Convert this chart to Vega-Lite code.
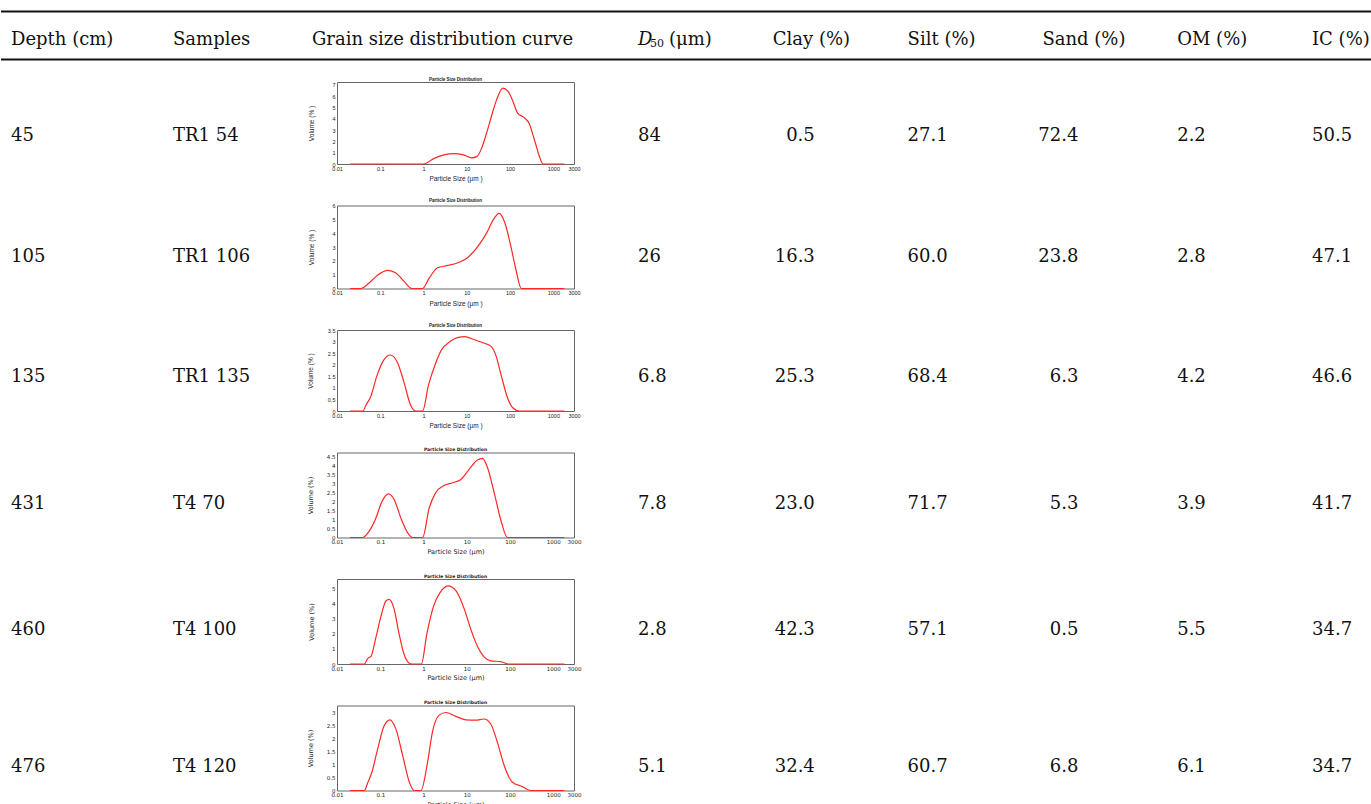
{
  "$schema": "https://vega.github.io/schema/vega-lite/v6.json",
  "padding": {"top": 10.5, "left": 0, "right": 0, "bottom": 0},
  "bounds": "flush",
  "align": "each",
  "columns": 3,
  "spacing": {"row": 22.5, "column": 0},
  "config": {
    "view": {"stroke": null},
    "text": {"font": "DejaVu Serif", "fontSize": 18, "color": "#111"},
    "axis": {"domain": false, "grid": false, "ticks": false, "labelFontSize": 5.5, "titleFontSize": 6.5, "titleFontWeight": "normal", "labelPadding": 2, "labelColor": "#222", "titleColor": "#222", "labelOverlap": false},
    "title": {"fontSize": 4.5, "fontWeight": "bold", "offset": 1, "color": "#222"}
  },
  "datasets": {
    "table": [
      {"depth": 45, "sample": "TR1 54", "d50": 84, "clay": 0.5, "silt": 27.1, "sand": 72.4, "om": 2.2, "ic": 50.5},
      {"depth": 105, "sample": "TR1 106", "d50": 26, "clay": 16.3, "silt": 60.0, "sand": 23.8, "om": 2.8, "ic": 47.1},
      {"depth": 135, "sample": "TR1 135", "d50": 6.8, "clay": 25.3, "silt": 68.4, "sand": 6.3, "om": 4.2, "ic": 46.6},
      {"depth": 431, "sample": "T4 70", "d50": 7.8, "clay": 23.0, "silt": 71.7, "sand": 5.3, "om": 3.9, "ic": 41.7},
      {"depth": 460, "sample": "T4 100", "d50": 2.8, "clay": 42.3, "silt": 57.1, "sand": 0.5, "om": 5.5, "ic": 34.7},
      {"depth": 476, "sample": "T4 120", "d50": 5.1, "clay": 32.4, "silt": 60.7, "sand": 6.8, "om": 6.1, "ic": 34.7}
    ],
    "psd": [
      {"sample": "TR1 54", "size": 0.02, "vol": 0}, {"sample": "TR1 54", "size": 0.5, "vol": 0}, {"sample": "TR1 54", "size": 1, "vol": 0},
      {"sample": "TR1 54", "size": 1.75, "vol": 0.5}, {"sample": "TR1 54", "size": 2.95, "vol": 0.8}, {"sample": "TR1 54", "size": 5, "vol": 0.92},
      {"sample": "TR1 54", "size": 8.4, "vol": 0.8}, {"sample": "TR1 54", "size": 13, "vol": 0.55}, {"sample": "TR1 54", "size": 17, "vol": 0.65},
      {"sample": "TR1 54", "size": 22, "vol": 1.4}, {"sample": "TR1 54", "size": 28.5, "vol": 2.7}, {"sample": "TR1 54", "size": 37, "vol": 4.2},
      {"sample": "TR1 54", "size": 48, "vol": 5.6}, {"sample": "TR1 54", "size": 68, "vol": 6.7}, {"sample": "TR1 54", "size": 89, "vol": 6.45},
      {"sample": "TR1 54", "size": 115, "vol": 5.6}, {"sample": "TR1 54", "size": 149, "vol": 4.5}, {"sample": "TR1 54", "size": 212, "vol": 4.1},
      {"sample": "TR1 54", "size": 275, "vol": 3.6}, {"sample": "TR1 54", "size": 355, "vol": 2.3}, {"sample": "TR1 54", "size": 465, "vol": 0.8},
      {"sample": "TR1 54", "size": 575, "vol": 0}, {"sample": "TR1 54", "size": 1800, "vol": 0},

      {"sample": "TR1 106", "size": 0.02, "vol": 0}, {"sample": "TR1 106", "size": 0.036, "vol": 0}, {"sample": "TR1 106", "size": 0.057, "vol": 0.44},
      {"sample": "TR1 106", "size": 0.089, "vol": 1.0}, {"sample": "TR1 106", "size": 0.15, "vol": 1.32}, {"sample": "TR1 106", "size": 0.23, "vol": 1.12},
      {"sample": "TR1 106", "size": 0.36, "vol": 0.5}, {"sample": "TR1 106", "size": 0.54, "vol": 0}, {"sample": "TR1 106", "size": 0.95, "vol": 0},
      {"sample": "TR1 106", "size": 1.35, "vol": 0.75}, {"sample": "TR1 106", "size": 2.1, "vol": 1.5}, {"sample": "TR1 106", "size": 3.5, "vol": 1.66},
      {"sample": "TR1 106", "size": 6, "vol": 1.85}, {"sample": "TR1 106", "size": 10, "vol": 2.2}, {"sample": "TR1 106", "size": 17, "vol": 2.95},
      {"sample": "TR1 106", "size": 29, "vol": 4.05}, {"sample": "TR1 106", "size": 41, "vol": 5.0}, {"sample": "TR1 106", "size": 56, "vol": 5.45},
      {"sample": "TR1 106", "size": 75, "vol": 4.8}, {"sample": "TR1 106", "size": 108, "vol": 2.83}, {"sample": "TR1 106", "size": 139, "vol": 1.25},
      {"sample": "TR1 106", "size": 182, "vol": 0}, {"sample": "TR1 106", "size": 1800, "vol": 0},

      {"sample": "TR1 135", "size": 0.02, "vol": 0}, {"sample": "TR1 135", "size": 0.04, "vol": 0}, {"sample": "TR1 135", "size": 0.046, "vol": 0.23},
      {"sample": "TR1 135", "size": 0.06, "vol": 0.62}, {"sample": "TR1 135", "size": 0.085, "vol": 1.56}, {"sample": "TR1 135", "size": 0.12, "vol": 2.2},
      {"sample": "TR1 135", "size": 0.17, "vol": 2.42}, {"sample": "TR1 135", "size": 0.245, "vol": 2.13}, {"sample": "TR1 135", "size": 0.35, "vol": 1.27},
      {"sample": "TR1 135", "size": 0.5, "vol": 0.26}, {"sample": "TR1 135", "size": 0.65, "vol": 0}, {"sample": "TR1 135", "size": 0.95, "vol": 0},
      {"sample": "TR1 135", "size": 1.3, "vol": 1.12}, {"sample": "TR1 135", "size": 1.85, "vol": 2.0}, {"sample": "TR1 135", "size": 2.6, "vol": 2.64},
      {"sample": "TR1 135", "size": 4.1, "vol": 3.0}, {"sample": "TR1 135", "size": 6.3, "vol": 3.18}, {"sample": "TR1 135", "size": 9, "vol": 3.21},
      {"sample": "TR1 135", "size": 14, "vol": 3.1}, {"sample": "TR1 135", "size": 22, "vol": 2.97}, {"sample": "TR1 135", "size": 37, "vol": 2.78},
      {"sample": "TR1 135", "size": 48, "vol": 2.35}, {"sample": "TR1 135", "size": 62, "vol": 1.56}, {"sample": "TR1 135", "size": 88, "vol": 0.55},
      {"sample": "TR1 135", "size": 115, "vol": 0.14}, {"sample": "TR1 135", "size": 164, "vol": 0}, {"sample": "TR1 135", "size": 1800, "vol": 0},

      {"sample": "T4 70", "size": 0.02, "vol": 0}, {"sample": "T4 70", "size": 0.039, "vol": 0}, {"sample": "T4 70", "size": 0.056, "vol": 0.37},
      {"sample": "T4 70", "size": 0.079, "vol": 1.07}, {"sample": "T4 70", "size": 0.11, "vol": 2.0}, {"sample": "T4 70", "size": 0.155, "vol": 2.41},
      {"sample": "T4 70", "size": 0.21, "vol": 2.09}, {"sample": "T4 70", "size": 0.3, "vol": 1.07}, {"sample": "T4 70", "size": 0.43, "vol": 0.26},
      {"sample": "T4 70", "size": 0.56, "vol": 0}, {"sample": "T4 70", "size": 0.95, "vol": 0}, {"sample": "T4 70", "size": 1.35, "vol": 1.63},
      {"sample": "T4 70", "size": 1.9, "vol": 2.47}, {"sample": "T4 70", "size": 3, "vol": 2.88}, {"sample": "T4 70", "size": 4.7, "vol": 3.03},
      {"sample": "T4 70", "size": 7.3, "vol": 3.21}, {"sample": "T4 70", "size": 11.3, "vol": 3.77}, {"sample": "T4 70", "size": 17.6, "vol": 4.28},
      {"sample": "T4 70", "size": 23, "vol": 4.37}, {"sample": "T4 70", "size": 30, "vol": 3.87}, {"sample": "T4 70", "size": 43, "vol": 2.47},
      {"sample": "T4 70", "size": 61, "vol": 0.97}, {"sample": "T4 70", "size": 87, "vol": 0}, {"sample": "T4 70", "size": 1800, "vol": 0},

      {"sample": "T4 100", "size": 0.02, "vol": 0}, {"sample": "T4 100", "size": 0.043, "vol": 0}, {"sample": "T4 100", "size": 0.051, "vol": 0.36},
      {"sample": "T4 100", "size": 0.061, "vol": 0.5}, {"sample": "T4 100", "size": 0.08, "vol": 1.8}, {"sample": "T4 100", "size": 0.104, "vol": 3.15},
      {"sample": "T4 100", "size": 0.135, "vol": 4.15}, {"sample": "T4 100", "size": 0.16, "vol": 4.26}, {"sample": "T4 100", "size": 0.21, "vol": 3.6},
      {"sample": "T4 100", "size": 0.27, "vol": 2.03}, {"sample": "T4 100", "size": 0.35, "vol": 0.69}, {"sample": "T4 100", "size": 0.46, "vol": 0.07},
      {"sample": "T4 100", "size": 0.54, "vol": 0}, {"sample": "T4 100", "size": 0.89, "vol": 0}, {"sample": "T4 100", "size": 1.2, "vol": 2.03},
      {"sample": "T4 100", "size": 1.7, "vol": 3.8}, {"sample": "T4 100", "size": 2.4, "vol": 4.7}, {"sample": "T4 100", "size": 3.7, "vol": 5.15},
      {"sample": "T4 100", "size": 5.7, "vol": 4.8}, {"sample": "T4 100", "size": 8.8, "vol": 3.6}, {"sample": "T4 100", "size": 12.5, "vol": 2.25},
      {"sample": "T4 100", "size": 17.8, "vol": 1.14}, {"sample": "T4 100", "size": 25, "vol": 0.47}, {"sample": "T4 100", "size": 36, "vol": 0.2},
      {"sample": "T4 100", "size": 60, "vol": 0.16}, {"sample": "T4 100", "size": 93, "vol": 0}, {"sample": "T4 100", "size": 1800, "vol": 0},

      {"sample": "T4 120", "size": 0.02, "vol": 0}, {"sample": "T4 120", "size": 0.043, "vol": 0}, {"sample": "T4 120", "size": 0.051, "vol": 0.29},
      {"sample": "T4 120", "size": 0.064, "vol": 0.7}, {"sample": "T4 120", "size": 0.087, "vol": 1.6}, {"sample": "T4 120", "size": 0.123, "vol": 2.49},
      {"sample": "T4 120", "size": 0.167, "vol": 2.72}, {"sample": "T4 120", "size": 0.23, "vol": 2.36}, {"sample": "T4 120", "size": 0.33, "vol": 1.34},
      {"sample": "T4 120", "size": 0.47, "vol": 0.32}, {"sample": "T4 120", "size": 0.61, "vol": 0}, {"sample": "T4 120", "size": 0.87, "vol": 0},
      {"sample": "T4 120", "size": 1.24, "vol": 1.09}, {"sample": "T4 120", "size": 1.6, "vol": 2.24}, {"sample": "T4 120", "size": 2.3, "vol": 2.9},
      {"sample": "T4 120", "size": 3.3, "vol": 3.0}, {"sample": "T4 120", "size": 5.6, "vol": 2.85}, {"sample": "T4 120", "size": 9.5, "vol": 2.72},
      {"sample": "T4 120", "size": 16, "vol": 2.71}, {"sample": "T4 120", "size": 25, "vol": 2.75}, {"sample": "T4 120", "size": 36, "vol": 2.55},
      {"sample": "T4 120", "size": 51, "vol": 1.85}, {"sample": "T4 120", "size": 73, "vol": 0.96}, {"sample": "T4 120", "size": 113, "vol": 0.32},
      {"sample": "T4 120", "size": 192, "vol": 0.15}, {"sample": "T4 120", "size": 300, "vol": 0}, {"sample": "T4 120", "size": 1800, "vol": 0}
    ]
  },
  "concat": [
    {
      "width": 336, "height": 48,
      "layer": [
        {"data": {"values": [{"edge": "top"}, {"edge": "bottom"}]}, "mark": {"type": "rule", "color": "#111", "strokeWidth": 2}, "encoding": {"y": {"field": "edge", "type": "ordinal", "scale": {"type": "point", "domain": ["top", "bottom"], "padding": 0}, "axis": null}}},
        {"data": {"values": [{"col": "depth", "label": "Depth (cm)"}, {"col": "sample", "label": "Samples"}]}, "mark": {"type": "text", "align": "left", "baseline": "middle", "dy": 4.5}, "encoding": {"x": {"field": "col", "type": "ordinal", "scale": {"type": "point", "domain": ["depth", "sample"], "range": [10, 172], "padding": 0}, "axis": null}, "text": {"field": "label"}}}
      ]
    },
    {
      "width": 237, "height": 48,
      "layer": [
        {"data": {"values": [{"edge": "top"}, {"edge": "bottom"}]}, "mark": {"type": "rule", "color": "#111", "strokeWidth": 2}, "encoding": {"y": {"field": "edge", "type": "ordinal", "scale": {"type": "point", "domain": ["top", "bottom"], "padding": 0}, "axis": null}}},
        {"data": {"values": [{"label": "Grain size distribution curve"}]}, "mark": {"type": "text", "align": "center", "baseline": "middle", "dy": 4.5, "dx": -13}, "encoding": {"text": {"field": "label"}}}
      ]
    },
    {
      "width": 798, "height": 48,
      "layer": [
        {"data": {"values": [{"edge": "top"}, {"edge": "bottom"}]}, "mark": {"type": "rule", "color": "#111", "strokeWidth": 2}, "encoding": {"y": {"field": "edge", "type": "ordinal", "scale": {"type": "point", "domain": ["top", "bottom"], "padding": 0}, "axis": null}}},
        {"data": {"values": [{"col": "clay", "label": "Clay (%)"}, {"col": "silt", "label": "Silt (%)"}, {"col": "sand", "label": "Sand (%)"}, {"col": "om", "label": "OM (%)"}, {"col": "ic", "label": "IC (%)"}]}, "mark": {"type": "text", "align": "left", "baseline": "middle", "dy": 4.5}, "encoding": {"x": {"field": "col", "type": "ordinal", "scale": {"type": "point", "domain": ["d50", "clay", "silt", "sand", "om", "ic"], "range": [64, 738], "padding": 0}, "axis": null}, "text": {"field": "label"}}},
        {"data": {"values": [{"col": "d50", "label": "D"}]}, "mark": {"type": "text", "align": "left", "baseline": "middle", "dy": 4.5, "fontStyle": "italic"}, "encoding": {"x": {"field": "col", "type": "ordinal"}, "text": {"field": "label"}}},
        {"data": {"values": [{"col": "d50", "label": "50"}]}, "mark": {"type": "text", "align": "left", "baseline": "middle", "dy": 8.5, "dx": 12, "fontSize": 11}, "encoding": {"x": {"field": "col", "type": "ordinal"}, "text": {"field": "label"}}},
        {"data": {"values": [{"col": "d50", "label": "(μm)"}]}, "mark": {"type": "text", "align": "left", "baseline": "middle", "dy": 4.5, "dx": 31}, "encoding": {"x": {"field": "col", "type": "ordinal"}, "text": {"field": "label"}}}
      ]
    },

    {"width": 336, "height": 100.5, "data": {"name": "table"}, "transform": [{"filter": "datum.sample === 'TR1 54'"}, {"fold": ["depth", "sample"]}], "mark": {"type": "text", "align": "left", "baseline": "middle", "dy": 4}, "encoding": {"x": {"field": "key", "type": "ordinal", "scale": {"type": "point", "domain": ["depth", "sample"], "range": [10, 172], "padding": 0}, "axis": null}, "text": {"field": "value", "type": "nominal"}}},
    {"width": 237, "height": 82, "view": {"stroke": "#666", "strokeWidth": 1}, "title": {"text": "Particle Size Distribution", "font": "Liberation Sans"}, "data": {"name": "psd"}, "transform": [{"filter": "datum.sample === 'TR1 54'"}], "mark": {"type": "line", "color": "#ff2626", "strokeWidth": 1.2, "interpolate": "monotone"},
     "encoding": {"x": {"field": "size", "type": "quantitative", "scale": {"type": "log", "domain": [0.01, 3000], "nice": false}, "axis": {"values": [0.01, 0.1, 1, 10, 100, 1000, 3000], "format": "~g", "labelFlush": false, "title": "Particle Size   (µm )", "labelFont": "Liberation Sans", "titleFont": "Liberation Sans", "titlePadding": 4}},
                  "y": {"field": "vol", "type": "quantitative", "scale": {"domain": [0, 7.25], "nice": false}, "axis": {"values": [0, 1, 2, 3, 4, 5, 6, 7], "format": "~g", "title": "Volume   (% )", "labelFont": "Liberation Sans", "titleFont": "Liberation Sans", "titlePadding": 17, "labelFlush": false}}}},
    {"width": 798, "height": 100.5, "data": {"name": "table"}, "transform": [{"filter": "datum.sample === 'TR1 54'"}],
     "encoding": {"x": {"field": "key", "type": "ordinal", "scale": {"type": "point", "domain": ["d50", "clay", "silt", "sand", "om", "ic"], "range": [64, 738], "padding": 0}, "axis": null}},
     "layer": [
       {"transform": [{"fold": ["d50"]}], "mark": {"type": "text", "align": "left", "baseline": "middle", "dy": 4}, "encoding": {"text": {"field": "value", "type": "nominal"}}},
       {"transform": [{"fold": ["silt", "om", "ic"]}], "mark": {"type": "text", "align": "left", "baseline": "middle", "dy": 4}, "encoding": {"text": {"field": "value", "type": "quantitative", "format": ".1f"}}},
       {"transform": [{"fold": ["clay"]}], "mark": {"type": "text", "align": "right", "baseline": "middle", "dy": 4, "dx": 42}, "encoding": {"text": {"field": "value", "type": "quantitative", "format": ".1f"}}},
       {"transform": [{"fold": ["sand"]}], "mark": {"type": "text", "align": "right", "baseline": "middle", "dy": 4, "dx": 36}, "encoding": {"text": {"field": "value", "type": "quantitative", "format": ".1f"}}}
     ]},

    {"width": 336, "height": 101.5, "data": {"name": "table"}, "transform": [{"filter": "datum.sample === 'TR1 106'"}, {"fold": ["depth", "sample"]}], "mark": {"type": "text", "align": "left", "baseline": "middle", "dy": 0.5}, "encoding": {"x": {"field": "key", "type": "ordinal", "scale": {"type": "point", "domain": ["depth", "sample"], "range": [10, 172], "padding": 0}, "axis": null}, "text": {"field": "value", "type": "nominal"}}},
    {"width": 237, "height": 83, "view": {"stroke": "#666", "strokeWidth": 1}, "title": {"text": "Particle Size Distribution", "font": "Liberation Sans"}, "data": {"name": "psd"}, "transform": [{"filter": "datum.sample === 'TR1 106'"}], "mark": {"type": "line", "color": "#ff2626", "strokeWidth": 1.2, "interpolate": "monotone"},
     "encoding": {"x": {"field": "size", "type": "quantitative", "scale": {"type": "log", "domain": [0.01, 3000], "nice": false}, "axis": {"values": [0.01, 0.1, 1, 10, 100, 1000, 3000], "format": "~g", "labelFlush": false, "title": "Particle Size   (µm )", "labelFont": "Liberation Sans", "titleFont": "Liberation Sans", "titlePadding": 4}},
                  "y": {"field": "vol", "type": "quantitative", "scale": {"domain": [0, 6.02], "nice": false}, "axis": {"values": [0, 1, 2, 3, 4, 5, 6], "format": "~g", "title": "Volume   (% )", "labelFont": "Liberation Sans", "titleFont": "Liberation Sans", "titlePadding": 17, "labelFlush": false}}}},
    {"width": 798, "height": 101.5, "data": {"name": "table"}, "transform": [{"filter": "datum.sample === 'TR1 106'"}],
     "encoding": {"x": {"field": "key", "type": "ordinal", "scale": {"type": "point", "domain": ["d50", "clay", "silt", "sand", "om", "ic"], "range": [64, 738], "padding": 0}, "axis": null}},
     "layer": [
       {"transform": [{"fold": ["d50"]}], "mark": {"type": "text", "align": "left", "baseline": "middle", "dy": 0.5}, "encoding": {"text": {"field": "value", "type": "nominal"}}},
       {"transform": [{"fold": ["silt", "om", "ic"]}], "mark": {"type": "text", "align": "left", "baseline": "middle", "dy": 0.5}, "encoding": {"text": {"field": "value", "type": "quantitative", "format": ".1f"}}},
       {"transform": [{"fold": ["clay"]}], "mark": {"type": "text", "align": "right", "baseline": "middle", "dy": 0.5, "dx": 42}, "encoding": {"text": {"field": "value", "type": "quantitative", "format": ".1f"}}},
       {"transform": [{"fold": ["sand"]}], "mark": {"type": "text", "align": "right", "baseline": "middle", "dy": 0.5, "dx": 36}, "encoding": {"text": {"field": "value", "type": "quantitative", "format": ".1f"}}}
     ]},

    {"width": 336, "height": 99.5, "data": {"name": "table"}, "transform": [{"filter": "datum.sample === 'TR1 135'"}, {"fold": ["depth", "sample"]}], "mark": {"type": "text", "align": "left", "baseline": "middle", "dy": -3.25}, "encoding": {"x": {"field": "key", "type": "ordinal", "scale": {"type": "point", "domain": ["depth", "sample"], "range": [10, 172], "padding": 0}, "axis": null}, "text": {"field": "value", "type": "nominal"}}},
    {"width": 237, "height": 81, "view": {"stroke": "#666", "strokeWidth": 1}, "title": {"text": "Particle Size Distribution", "font": "Liberation Sans"}, "data": {"name": "psd"}, "transform": [{"filter": "datum.sample === 'TR1 135'"}], "mark": {"type": "line", "color": "#ff2626", "strokeWidth": 1.2, "interpolate": "monotone"},
     "encoding": {"x": {"field": "size", "type": "quantitative", "scale": {"type": "log", "domain": [0.01, 3000], "nice": false}, "axis": {"values": [0.01, 0.1, 1, 10, 100, 1000, 3000], "format": "~g", "labelFlush": false, "title": "Particle Size   (µm )", "labelFont": "Liberation Sans", "titleFont": "Liberation Sans", "titlePadding": 4}},
                  "y": {"field": "vol", "type": "quantitative", "scale": {"domain": [0, 3.5], "nice": false}, "axis": {"values": [0, 0.5, 1, 1.5, 2, 2.5, 3, 3.5], "format": "~g", "title": "Volume   (% )", "labelFont": "Liberation Sans", "titleFont": "Liberation Sans", "titlePadding": 14, "labelFlush": false}}}},
    {"width": 798, "height": 99.5, "data": {"name": "table"}, "transform": [{"filter": "datum.sample === 'TR1 135'"}],
     "encoding": {"x": {"field": "key", "type": "ordinal", "scale": {"type": "point", "domain": ["d50", "clay", "silt", "sand", "om", "ic"], "range": [64, 738], "padding": 0}, "axis": null}},
     "layer": [
       {"transform": [{"fold": ["d50"]}], "mark": {"type": "text", "align": "left", "baseline": "middle", "dy": -3.25}, "encoding": {"text": {"field": "value", "type": "nominal"}}},
       {"transform": [{"fold": ["silt", "om", "ic"]}], "mark": {"type": "text", "align": "left", "baseline": "middle", "dy": -3.25}, "encoding": {"text": {"field": "value", "type": "quantitative", "format": ".1f"}}},
       {"transform": [{"fold": ["clay"]}], "mark": {"type": "text", "align": "right", "baseline": "middle", "dy": -3.25, "dx": 42}, "encoding": {"text": {"field": "value", "type": "quantitative", "format": ".1f"}}},
       {"transform": [{"fold": ["sand"]}], "mark": {"type": "text", "align": "right", "baseline": "middle", "dy": -3.25, "dx": 36}, "encoding": {"text": {"field": "value", "type": "quantitative", "format": ".1f"}}}
     ]},

    {"width": 336, "height": 103.5, "data": {"name": "table"}, "transform": [{"filter": "datum.sample === 'T4 70'"}, {"fold": ["depth", "sample"]}], "mark": {"type": "text", "align": "left", "baseline": "middle", "dy": -0.5}, "encoding": {"x": {"field": "key", "type": "ordinal", "scale": {"type": "point", "domain": ["depth", "sample"], "range": [10, 172], "padding": 0}, "axis": null}, "text": {"field": "value", "type": "nominal"}}},
    {"width": 237, "height": 85, "view": {"stroke": "#666", "strokeWidth": 1}, "title": {"text": "Particle Size Distribution", "font": "DejaVu Sans"}, "data": {"name": "psd"}, "transform": [{"filter": "datum.sample === 'T4 70'"}], "mark": {"type": "line", "color": "#ff2626", "strokeWidth": 1.2, "interpolate": "monotone"},
     "encoding": {"x": {"field": "size", "type": "quantitative", "scale": {"type": "log", "domain": [0.01, 3000], "nice": false}, "axis": {"values": [0.01, 0.1, 1, 10, 100, 1000, 3000], "format": "~g", "labelFlush": false, "title": "Particle Size (µm)", "labelFont": "DejaVu Sans", "titleFont": "DejaVu Sans", "titlePadding": 3}},
                  "y": {"field": "vol", "type": "quantitative", "scale": {"domain": [0, 4.7], "nice": false}, "axis": {"values": [0, 0.5, 1, 1.5, 2, 2.5, 3, 3.5, 4, 4.5], "format": "~g", "title": "Volume (%)", "labelFont": "DejaVu Sans", "titleFont": "DejaVu Sans", "titlePadding": 13, "labelFlush": false}}}},
    {"width": 798, "height": 103.5, "data": {"name": "table"}, "transform": [{"filter": "datum.sample === 'T4 70'"}],
     "encoding": {"x": {"field": "key", "type": "ordinal", "scale": {"type": "point", "domain": ["d50", "clay", "silt", "sand", "om", "ic"], "range": [64, 738], "padding": 0}, "axis": null}},
     "layer": [
       {"transform": [{"fold": ["d50"]}], "mark": {"type": "text", "align": "left", "baseline": "middle", "dy": -0.5}, "encoding": {"text": {"field": "value", "type": "nominal"}}},
       {"transform": [{"fold": ["silt", "om", "ic"]}], "mark": {"type": "text", "align": "left", "baseline": "middle", "dy": -0.5}, "encoding": {"text": {"field": "value", "type": "quantitative", "format": ".1f"}}},
       {"transform": [{"fold": ["clay"]}], "mark": {"type": "text", "align": "right", "baseline": "middle", "dy": -0.5, "dx": 42}, "encoding": {"text": {"field": "value", "type": "quantitative", "format": ".1f"}}},
       {"transform": [{"fold": ["sand"]}], "mark": {"type": "text", "align": "right", "baseline": "middle", "dy": -0.5, "dx": 36}, "encoding": {"text": {"field": "value", "type": "quantitative", "format": ".1f"}}}
     ]},

    {"width": 336, "height": 103.5, "data": {"name": "table"}, "transform": [{"filter": "datum.sample === 'T4 100'"}, {"fold": ["depth", "sample"]}], "mark": {"type": "text", "align": "left", "baseline": "middle", "dy": -1.25}, "encoding": {"x": {"field": "key", "type": "ordinal", "scale": {"type": "point", "domain": ["depth", "sample"], "range": [10, 172], "padding": 0}, "axis": null}, "text": {"field": "value", "type": "nominal"}}},
    {"width": 237, "height": 85, "view": {"stroke": "#666", "strokeWidth": 1}, "title": {"text": "Particle Size Distribution", "font": "DejaVu Sans"}, "data": {"name": "psd"}, "transform": [{"filter": "datum.sample === 'T4 100'"}], "mark": {"type": "line", "color": "#ff2626", "strokeWidth": 1.2, "interpolate": "monotone"},
     "encoding": {"x": {"field": "size", "type": "quantitative", "scale": {"type": "log", "domain": [0.01, 3000], "nice": false}, "axis": {"values": [0.01, 0.1, 1, 10, 100, 1000, 3000], "format": "~g", "labelFlush": false, "title": "Particle Size (µm)", "labelFont": "DejaVu Sans", "titleFont": "DejaVu Sans", "titlePadding": 3}},
                  "y": {"field": "vol", "type": "quantitative", "scale": {"domain": [0, 5.6], "nice": false}, "axis": {"values": [0, 1, 2, 3, 4, 5], "format": "~g", "title": "Volume (%)", "labelFont": "DejaVu Sans", "titleFont": "DejaVu Sans", "titlePadding": 17, "labelFlush": false}}}},
    {"width": 798, "height": 103.5, "data": {"name": "table"}, "transform": [{"filter": "datum.sample === 'T4 100'"}],
     "encoding": {"x": {"field": "key", "type": "ordinal", "scale": {"type": "point", "domain": ["d50", "clay", "silt", "sand", "om", "ic"], "range": [64, 738], "padding": 0}, "axis": null}},
     "layer": [
       {"transform": [{"fold": ["d50"]}], "mark": {"type": "text", "align": "left", "baseline": "middle", "dy": -1.25}, "encoding": {"text": {"field": "value", "type": "nominal"}}},
       {"transform": [{"fold": ["silt", "om", "ic"]}], "mark": {"type": "text", "align": "left", "baseline": "middle", "dy": -1.25}, "encoding": {"text": {"field": "value", "type": "quantitative", "format": ".1f"}}},
       {"transform": [{"fold": ["clay"]}], "mark": {"type": "text", "align": "right", "baseline": "middle", "dy": -1.25, "dx": 42}, "encoding": {"text": {"field": "value", "type": "quantitative", "format": ".1f"}}},
       {"transform": [{"fold": ["sand"]}], "mark": {"type": "text", "align": "right", "baseline": "middle", "dy": -1.25, "dx": 36}, "encoding": {"text": {"field": "value", "type": "quantitative", "format": ".1f"}}}
     ]},

    {"width": 336, "height": 85, "data": {"name": "table"}, "transform": [{"filter": "datum.sample === 'T4 120'"}, {"fold": ["depth", "sample"]}], "mark": {"type": "text", "align": "left", "baseline": "middle", "dy": 19}, "encoding": {"x": {"field": "key", "type": "ordinal", "scale": {"type": "point", "domain": ["depth", "sample"], "range": [10, 172], "padding": 0}, "axis": null}, "text": {"field": "value", "type": "nominal"}}},
    {"width": 237, "height": 85, "view": {"stroke": "#666", "strokeWidth": 1}, "title": {"text": "Particle Size Distribution", "font": "DejaVu Sans"}, "data": {"name": "psd"}, "transform": [{"filter": "datum.sample === 'T4 120'"}], "mark": {"type": "line", "color": "#ff2626", "strokeWidth": 1.2, "interpolate": "monotone"},
     "encoding": {"x": {"field": "size", "type": "quantitative", "scale": {"type": "log", "domain": [0.01, 3000], "nice": false}, "axis": {"values": [0.01, 0.1, 1, 10, 100, 1000, 3000], "format": "~g", "labelFlush": false, "title": "Particle Size (µm)", "labelFont": "DejaVu Sans", "titleFont": "DejaVu Sans", "titlePadding": 3}},
                  "y": {"field": "vol", "type": "quantitative", "scale": {"domain": [0, 3.27], "nice": false}, "axis": {"values": [0, 0.5, 1, 1.5, 2, 2.5, 3], "format": "~g", "title": "Volume (%)", "labelFont": "DejaVu Sans", "titleFont": "DejaVu Sans", "titlePadding": 13, "labelFlush": false}}}},
    {"width": 798, "height": 85, "data": {"name": "table"}, "transform": [{"filter": "datum.sample === 'T4 120'"}],
     "encoding": {"x": {"field": "key", "type": "ordinal", "scale": {"type": "point", "domain": ["d50", "clay", "silt", "sand", "om", "ic"], "range": [64, 738], "padding": 0}, "axis": null}},
     "layer": [
       {"transform": [{"fold": ["d50"]}], "mark": {"type": "text", "align": "left", "baseline": "middle", "dy": 19}, "encoding": {"text": {"field": "value", "type": "nominal"}}},
       {"transform": [{"fold": ["silt", "om", "ic"]}], "mark": {"type": "text", "align": "left", "baseline": "middle", "dy": 19}, "encoding": {"text": {"field": "value", "type": "quantitative", "format": ".1f"}}},
       {"transform": [{"fold": ["clay"]}], "mark": {"type": "text", "align": "right", "baseline": "middle", "dy": 19, "dx": 42}, "encoding": {"text": {"field": "value", "type": "quantitative", "format": ".1f"}}},
       {"transform": [{"fold": ["sand"]}], "mark": {"type": "text", "align": "right", "baseline": "middle", "dy": 19, "dx": 36}, "encoding": {"text": {"field": "value", "type": "quantitative", "format": ".1f"}}}
     ]}
  ]
}
